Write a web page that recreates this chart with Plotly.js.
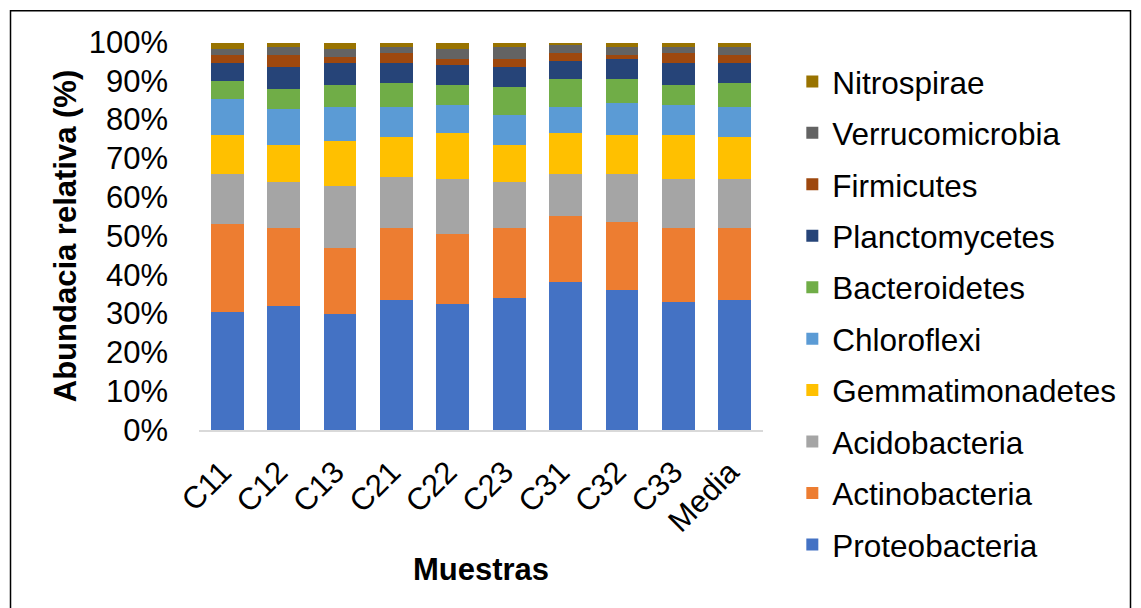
<!DOCTYPE html>
<html>
<head>
<meta charset="utf-8">
<script src="https://cdn.plot.ly/plotly-3.0.1.min.js"></script>
<style>
  html, body { margin: 0; padding: 0; background: #ffffff; }
  #chart { width: 1141px; height: 608px; }
</style>
</head>
<body>
<div id="chart"></div>
<script>
// Sample labels along the x axis
const muestras = ['C11', 'C12', 'C13', 'C21', 'C22', 'C23', 'C31', 'C32', 'C33', 'Media'];

// Relative abundance (%) of each phylum per sample
const proteobacteria   = [30.5, 32.0, 30.0, 33.5, 32.5, 34.1, 38.2, 36.1, 33.0, 33.5];
const actinobacteria   = [22.5, 20.0, 16.9, 18.5, 18.0, 17.9, 16.9, 17.4, 19.0, 18.5];
const acidobacteria    = [12.9, 11.8, 15.9, 13.3, 14.3, 11.8, 10.8, 12.4, 12.8, 12.8];
const gemmatimonadetes = [10.2,  9.7, 11.8, 10.3, 11.8,  9.7, 10.7, 10.2, 11.3, 10.8];
const chloroflexi      = [ 9.2,  9.3,  8.7,  7.7,  7.2,  7.7,  6.7,  8.2,  7.7,  7.7];
const bacteroidetes    = [ 4.7,  5.1,  5.6,  6.1,  5.1,  7.2,  7.2,  6.2,  5.1,  6.1];
const planctomycetes   = [ 4.6,  5.6,  5.7,  5.2,  5.2,  5.1,  4.6,  5.1,  5.7,  5.2];
const firmicutes       = [ 2.0,  3.1,  1.5,  2.5,  1.5,  2.1,  2.0,  1.0,  2.5,  2.0];
const verrucomicrobia  = [ 1.6,  2.1,  2.1,  1.6,  2.6,  3.1,  2.1,  2.1,  1.6,  2.1];
const nitrospirae      = [ 1.5,  1.0,  1.5,  1.0,  1.5,  1.0,  0.5,  1.0,  1.0,  1.0];

// Y axis ticks and their labels
const yTicks = [0, 10, 20, 30, 40, 50, 60, 70, 80, 90, 100];
const yTickText = ['0%', '10%', '20%', '30%', '40%', '50%', '60%', '70%', '80%', '90%', '100%'];

// Stack order, bottom to top
const series = [
  { name: 'Proteobacteria',   y: proteobacteria,   color: '#4472C4' },
  { name: 'Actinobacteria',   y: actinobacteria,   color: '#ED7D31' },
  { name: 'Acidobacteria',    y: acidobacteria,    color: '#A5A5A5' },
  { name: 'Gemmatimonadetes', y: gemmatimonadetes, color: '#FFC000' },
  { name: 'Chloroflexi',      y: chloroflexi,      color: '#5B9BD5' },
  { name: 'Bacteroidetes',    y: bacteroidetes,    color: '#70AD47' },
  { name: 'Planctomycetes',   y: planctomycetes,   color: '#264478' },
  { name: 'Firmicutes',       y: firmicutes,       color: '#9E480E' },
  { name: 'Verrucomicrobia',  y: verrucomicrobia,  color: '#636363' },
  { name: 'Nitrospirae',      y: nitrospirae,      color: '#997300' }
];

const FONT = 'Liberation Sans, Arial, sans-serif';

// Top of the stack is listed first in the legend
const traces = series.map((s, i) => ({
  type: 'bar',
  name: s.name,
  x: muestras,
  y: s.y,
  legendgroup: s.name,
  legendrank: series.length - i,
  marker: { color: s.color, line: { width: 0 } },
  hoverinfo: 'skip'
}));

const layout = {
  width: 1141,
  height: 608,
  barmode: 'stack',
  bargap: 0.42,
  paper_bgcolor: '#ffffff',
  plot_bgcolor: '#ffffff',
  font: { family: FONT, size: 31, color: '#000000' },
  margin: { l: 199, r: 378, t: 42, b: 178 },
  showlegend: true,
  legend: {
    x: 1.052, xanchor: 'left',
    y: 0.968, yanchor: 'top',
    traceorder: 'grouped',
    tracegroupgap: 7.5,
    maxheight: 600,
    font: { family: FONT, size: 31.5, color: '#000000' },
    bgcolor: 'rgba(0,0,0,0)'
  },
  xaxis: {
    type: 'category',
    tickangle: -45,
    ticks: '',
    ticklabelstandoff: 10,
    ticklabelshift: -5,
    showgrid: false,
    showline: true,
    linecolor: '#D9D9D9',
    linewidth: 1.5,
    zeroline: false,
    tickfont: { family: FONT, size: 31, color: '#000000' },
    title: { text: '<b>Muestras</b>', font: { family: FONT, size: 31, color: '#000000' }, standoff: 20 },
    automargin: false
  },
  yaxis: {
    range: [0, 100],
    tickvals: yTicks,
    ticktext: yTickText,
    ticks: '',
    ticklabelstandoff: 30,
    showgrid: false,
    showline: false,
    zeroline: false,
    tickfont: { family: FONT, size: 31, color: '#000000' },
    title: { text: '<b>Abundacia relativa (%)</b>', font: { family: FONT, size: 31, color: '#000000' }, standoff: 2 },
    automargin: false
  },
  shapes: [{
    type: 'rect', xref: 'paper', yref: 'paper',
    x0: -0.3342, x1: 1.6516, y0: -0.6, y1: 1.0804,
    line: { color: '#000000', width: 1.5 },
    fillcolor: 'rgba(0,0,0,0)',
    layer: 'below'
  }]
};

Plotly.newPlot('chart', traces, layout, { displayModeBar: false, staticPlot: true });
</script>
</body>
</html>
